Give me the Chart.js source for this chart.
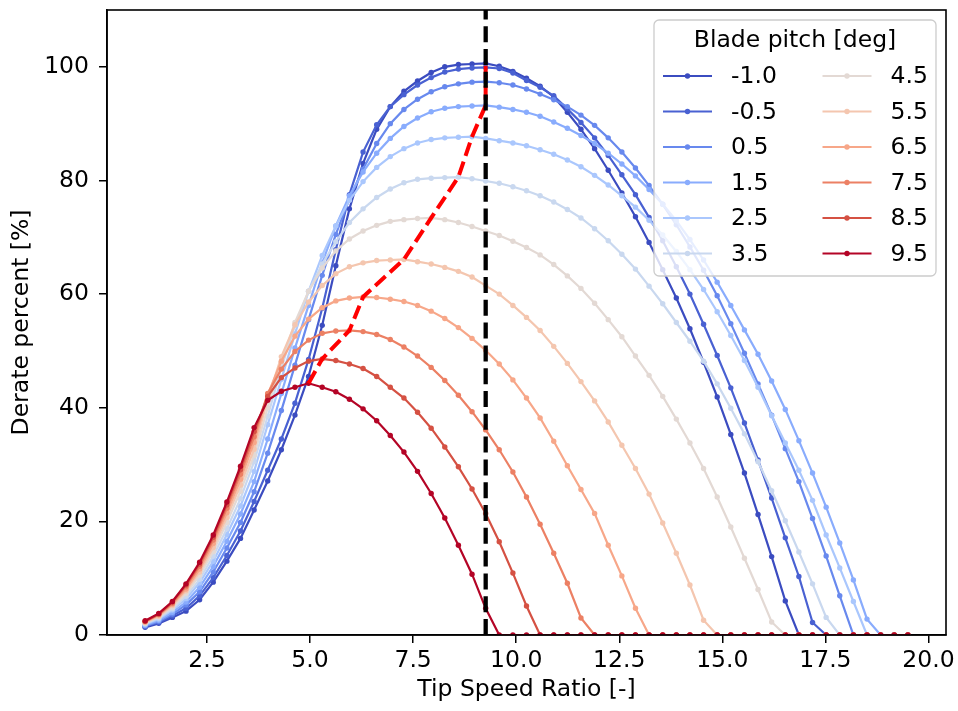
<!DOCTYPE html>
<html>
<head>
<meta charset="utf-8">
<title>Derate percent vs tip speed ratio</title>
<script src="https://cdn.jsdelivr.net/npm/chart.js@4.4.1/dist/chart.umd.min.js"></script>
<style>
  html, body { margin:0; padding:0; background:#fff; }
  #wrap { width:958px; height:711px; position:relative; }
</style>
</head>
<body>
<div id="wrap"><canvas id="derate"></canvas></div>
<script>
// tip speed ratio grid shared by every pitch curve
const tsr = [1.000,1.330,1.661,1.991,2.321,2.652,2.982,3.313,3.643,3.973,
  4.304,4.634,4.964,5.295,5.625,5.955,6.286,6.616,6.946,7.277,
  7.607,7.938,8.268,8.598,8.929,9.259,9.589,9.920,10.250,10.580,
  10.911,11.241,11.571,11.902,12.232,12.563,12.893,13.223,13.554,13.884,
  14.214,14.545,14.875,15.205,15.536,15.866,16.196,16.527,16.857,17.188,
  17.518,17.848,18.179,18.509,18.839,19.170,19.500];

const pitches = [-1.0, -0.5, 0.5, 1.5, 2.5, 3.5, 4.5, 5.5, 6.5, 7.5, 8.5, 9.5];
// coolwarm samples
const pitchColors = ['#3b4cc0','#4961d2','#6889ee','#89acfd','#aac7fd','#c9d8ef',
  '#e3d9d4','#f4c6af','#f7a789','#ec8064','#d55143','#b40426'];

// derate [%] per pitch
const derateM1_0 = [1.35,2.05,3.1,4.2,6.2,9.3,13.0,17.0,22.0,27.1,
  32.6,38.7,45.5,54.5,65.0,75.0,83.0,89.0,93.0,95.7,
  97.5,99.0,100.0,100.4,100.5,100.6,100.1,99.2,98.0,96.6,
  94.7,92.0,89.0,85.6,81.8,77.8,73.6,69.1,64.3,59.3,
  53.9,48.0,41.9,35.3,28.5,21.2,13.8,6.0,0,0,
  0,0,0,0,0,0,0];
const derateM0_5 = [1.5,2.2,3.4,4.7,6.9,10.1,14.0,18.3,23.5,29.0,
  34.5,40.8,48.5,57.5,67.8,77.5,85.0,89.8,93.0,95.1,
  96.8,98.1,99.1,99.6,99.8,99.9,99.7,98.9,97.6,96.4,
  94.9,92.6,90.2,87.5,84.4,81.0,77.5,73.5,69.4,64.8,
  60.0,54.7,49.2,43.5,37.3,30.8,24.1,17.1,10.3,2.2,
  0,0,0,0,0,0,0];
const derate0_5 = [1.6,2.4,3.7,5.3,7.6,11.1,15.3,19.8,25.2,32.0,
  39.5,47.5,55.5,63.3,70.5,76.8,82.0,86.5,90.0,92.5,
  94.3,95.6,96.5,97.0,97.3,97.4,97.2,96.8,96.1,95.2,
  94.2,93.0,91.5,89.7,87.5,85.0,82.2,79.1,75.8,72.2,
  68.3,64.2,59.7,54.8,49.6,44.2,38.7,32.8,27.0,20.5,
  13.9,6.9,0,0,0,0,0];
const derate1_5 = [1.7,2.6,4.0,5.8,8.4,12.1,16.5,21.3,27.0,34.5,
  42.5,50.5,58.0,65.5,72.0,77.3,81.5,84.8,87.4,89.5,
  91.0,92.1,92.7,93.0,93.1,93.2,92.9,92.5,92.0,91.3,
  90.3,89.2,87.9,86.5,84.8,82.9,80.8,78.4,75.8,72.9,
  69.6,66.0,62.1,58.0,53.7,49.4,44.7,39.7,34.2,28.5,
  22.5,16.2,9.7,2.8,0,0,0];
const derate2_5 = [1.9,2.8,4.4,6.4,9.2,13.0,17.7,22.7,28.8,37.0,
  45.0,53.0,60.5,66.8,72.0,76.5,79.8,82.3,84.2,85.6,
  86.6,87.2,87.5,87.6,87.7,87.4,87.0,86.6,86.1,85.4,
  84.6,83.6,82.4,80.9,79.2,77.3,75.3,73.0,70.4,67.5,
  64.3,60.8,56.9,52.7,48.3,43.6,38.6,33.8,29.0,23.7,
  17.6,11.8,5.9,0,0,0,0];
const derate3_5 = [2.0,3.0,4.6,6.8,9.8,13.9,18.7,24.0,30.5,38.5,
  47.0,54.5,60.5,65.3,69.2,72.6,75.0,77.0,78.5,79.6,
  80.2,80.4,80.5,80.6,80.3,79.9,79.5,78.9,78.2,77.3,
  76.2,74.9,73.4,71.5,69.4,67.0,64.4,61.4,58.3,55.0,
  51.7,48.2,44.2,39.9,35.4,30.5,25.4,20.1,14.6,9.0,
  3.1,0,0,0,0,0,0];
const derate4_5 = [2.1,3.2,4.9,7.3,10.5,14.7,19.8,25.3,31.6,40.0,
  48.0,55.0,60.5,64.6,67.6,69.7,71.1,72.1,72.8,73.1,
  73.3,73.4,73.1,72.6,71.9,71.1,70.3,69.3,68.2,66.9,
  65.2,63.2,61.0,58.4,55.5,52.5,49.1,45.7,42.0,38.0,
  33.8,29.3,24.3,19.0,13.5,8.0,2.3,0,0,0,
  0,0,0,0,0,0,0];
const derate5_5 = [2.2,3.3,5.2,7.8,11.1,15.4,20.7,26.4,32.7,41.5,
  49.0,54.6,58.6,61.5,63.6,64.8,65.5,65.9,66.0,66.1,
  65.7,65.3,64.7,64.0,63.0,61.5,60.0,58.0,55.9,53.6,
  50.8,47.8,44.6,41.2,37.5,33.4,29.3,24.8,19.7,14.4,
  8.8,2.6,0,0,0,0,0,0,0,0,
  0,0,0,0,0,0,0];
const derate6_5 = [2.3,3.5,5.4,8.1,11.6,16.1,21.5,27.4,33.9,42.3,
  48.2,52.6,55.6,57.6,58.8,59.3,59.5,59.4,59.1,58.7,
  58.0,57.0,55.7,54.1,52.2,50.1,47.7,44.9,41.7,38.2,
  34.1,29.8,25.6,21.4,15.8,10.4,4.7,0,0,0,
  0,0,0,0,0,0,0,0,0,0,
  0,0,0,0,0,0,0];
const derate7_5 = [2.4,3.6,5.6,8.5,12.1,16.7,22.3,28.3,34.9,42.5,
  46.8,49.9,51.9,53.1,53.5,53.6,53.4,52.9,52.0,50.7,
  49.1,47.1,44.8,42.2,39.3,36.1,32.6,28.7,24.3,19.5,
  14.4,9.1,3.0,0,0,0,0,0,0,0,
  0,0,0,0,0,0,0,0,0,0,
  0,0,0,0,0,0,0];
const derate8_5 = [2.4,3.7,5.8,8.8,12.5,17.2,22.9,29.1,35.8,42.0,
  45.3,47.0,48.2,48.6,48.3,47.7,46.9,45.5,43.6,41.7,
  39.2,36.4,33.1,29.6,25.7,21.4,16.4,10.9,5.1,0,
  0,0,0,0,0,0,0,0,0,0,
  0,0,0,0,0,0,0,0,0,0,
  0,0,0,0,0,0,0];
const derate9_5 = [2.5,3.8,5.9,9.0,12.8,17.6,23.4,29.7,36.5,41.3,
  42.9,43.6,44.3,43.6,42.8,41.5,39.8,37.7,35.1,32.2,
  28.8,24.9,20.6,15.8,10.7,4.7,0,0,0,0,
  0,0,0,0,0,0,0,0,0,0,
  0,0,0,0,0,0,0,0,0,0,
  0,0,0,0,0,0,0];

const derateByPitch = [derateM1_0, derateM0_5, derate0_5, derate1_5, derate2_5, derate3_5,
  derate4_5, derate5_5, derate6_5, derate7_5, derate8_5, derate9_5];

const optimalTsr = 9.26;
const xTicks = [2.5, 5.0, 7.5, 10.0, 12.5, 15.0, 17.5, 20.0];
const yTicks = [0, 20, 40, 60, 80, 100];

const FONT = 'DejaVu Sans';
const FONT_SIZE = 23.5;

// highest point of each curve, from 9.5 deg down to -1.0 deg
const peakPoints = derateByPitch.map(ys => {
  let k = 0;
  ys.forEach((v, i) => { if (v > ys[k]) k = i; });
  return { x: tsr[k], y: ys[k] };
}).reverse();

const curveSets = derateByPitch.map((ys, i) => ({
  label: pitches[i].toFixed(1),
  data: ys.map((y, k) => ({ x: tsr[k], y })),
  borderColor: pitchColors[i],
  backgroundColor: pitchColors[i],
  pointBackgroundColor: pitchColors[i],
  borderWidth: 2.2,
  pointRadius: 2.7,
  pointBorderWidth: 0,
  pointHoverRadius: 0,
  tension: 0,
  order: 20 - i
}));

const datasets = curveSets.concat([
  {
    label: 'peak',
    data: peakPoints,
    borderColor: '#ff0000',
    borderWidth: 4,
    borderDash: [14, 6],
    pointRadius: 0,
    tension: 0,
    order: 1
  },
  {
    label: 'tsr opt',
    data: [{ x: optimalTsr, y: 0 }, { x: optimalTsr, y: 110 }],
    borderColor: '#000000',
    borderWidth: 4.3,
    borderDash: [16, 6.8],
    pointRadius: 0,
    tension: 0,
    order: 0
  }
]);

// full box around the axes, drawn over the data like matplotlib spines
const frame = {
  id: 'frame',
  afterDatasetsDraw(chart) {
    const { ctx, chartArea: a } = chart;
    ctx.save();
    ctx.strokeStyle = '#000';
    ctx.lineWidth = 1.6;
    ctx.strokeRect(a.left, a.top, a.right - a.left, a.bottom - a.top);
    ctx.restore();
  }
};

// two-column legend with title, upper right
const pitchLegend = {
  id: 'pitchLegend',
  afterDraw(chart) {
    const { ctx, chartArea: a } = chart;
    const w = 282, h = 256;
    const x0 = a.right - 10 - w, y0 = a.top + 10;
    ctx.save();
    ctx.beginPath();
    ctx.roundRect(x0, y0, w, h, 5);
    ctx.fillStyle = 'rgba(255,255,255,0.8)';
    ctx.fill();
    ctx.strokeStyle = '#cccccc';
    ctx.lineWidth = 1.3;
    ctx.stroke();

    ctx.fillStyle = '#000';
    ctx.font = `${FONT_SIZE}px "${FONT}"`;
    ctx.textBaseline = 'middle';
    ctx.textAlign = 'center';
    ctx.fillText('Blade pitch [deg]', x0 + w / 2, y0 + 21);

    ctx.textAlign = 'left';
    const cols = [9, 168.5];
    pitches.forEach((p, i) => {
      const col = Math.floor(i / 6), row = i % 6;
      const cx = x0 + cols[col], cy = y0 + 56 + row * 35.5;
      ctx.strokeStyle = pitchColors[i];
      ctx.lineWidth = 2.2;
      ctx.beginPath();
      ctx.moveTo(cx, cy);
      ctx.lineTo(cx + 49, cy);
      ctx.stroke();
      ctx.fillStyle = pitchColors[i];
      ctx.beginPath();
      ctx.arc(cx + 24.5, cy, 2.7, 0, Math.PI * 2);
      ctx.fill();
      ctx.fillStyle = '#000';
      ctx.fillText(p.toFixed(1), cx + 68, cy + 1);
    });
    ctx.restore();
  }
};

const tickFont = { family: FONT, size: FONT_SIZE };

new Chart(document.getElementById('derate'), {
  type: 'line',
  data: { datasets },
  options: {
    responsive: true,
    maintainAspectRatio: false,
    animation: false,
    devicePixelRatio: 1,
    parsing: false,
    layout: { padding: { top: 10, right: 12, left: 0, bottom: 0 } },
    plugins: { legend: { display: false }, tooltip: { enabled: false } },
    scales: {
      x: {
        type: 'linear',
        min: 0.075,
        max: 20.425,
        afterBuildTicks: s => { s.ticks = xTicks.map(v => ({ value: v })); },
        afterFit: s => { s.height = 76; s.paddingLeft = 0; s.paddingRight = 0; },
        ticks: {
          callback: v => v.toFixed(1),
          font: tickFont, color: '#000', padding: 4,
          maxRotation: 0, autoSkip: false
        },
        grid: { drawOnChartArea: false, drawTicks: true, tickLength: 8, color: '#000', lineWidth: 1.5 },
        border: { display: true, color: '#000', width: 1.6 },
        title: {
          display: true, text: 'Tip Speed Ratio [-]',
          font: tickFont, color: '#000', padding: { top: 0, bottom: 7 }
        }
      },
      y: {
        type: 'linear',
        min: 0,
        max: 110,
        afterBuildTicks: s => { s.ticks = yTicks.map(v => ({ value: v })); },
        afterFit: s => { s.width = 107; s.paddingTop = 0; s.paddingBottom = 0; },
        ticks: { callback: v => String(v), font: tickFont, color: '#000', padding: 10 },
        grid: { drawOnChartArea: false, drawTicks: true, tickLength: 8, color: '#000', lineWidth: 1.5 },
        border: { display: true, color: '#000', width: 1.6 },
        title: {
          display: true, text: 'Derate percent [%]',
          font: tickFont, color: '#000', padding: { top: 8, bottom: 0 }
        }
      }
    }
  },
  plugins: [frame, pitchLegend]
});
</script>
</body>
</html>
